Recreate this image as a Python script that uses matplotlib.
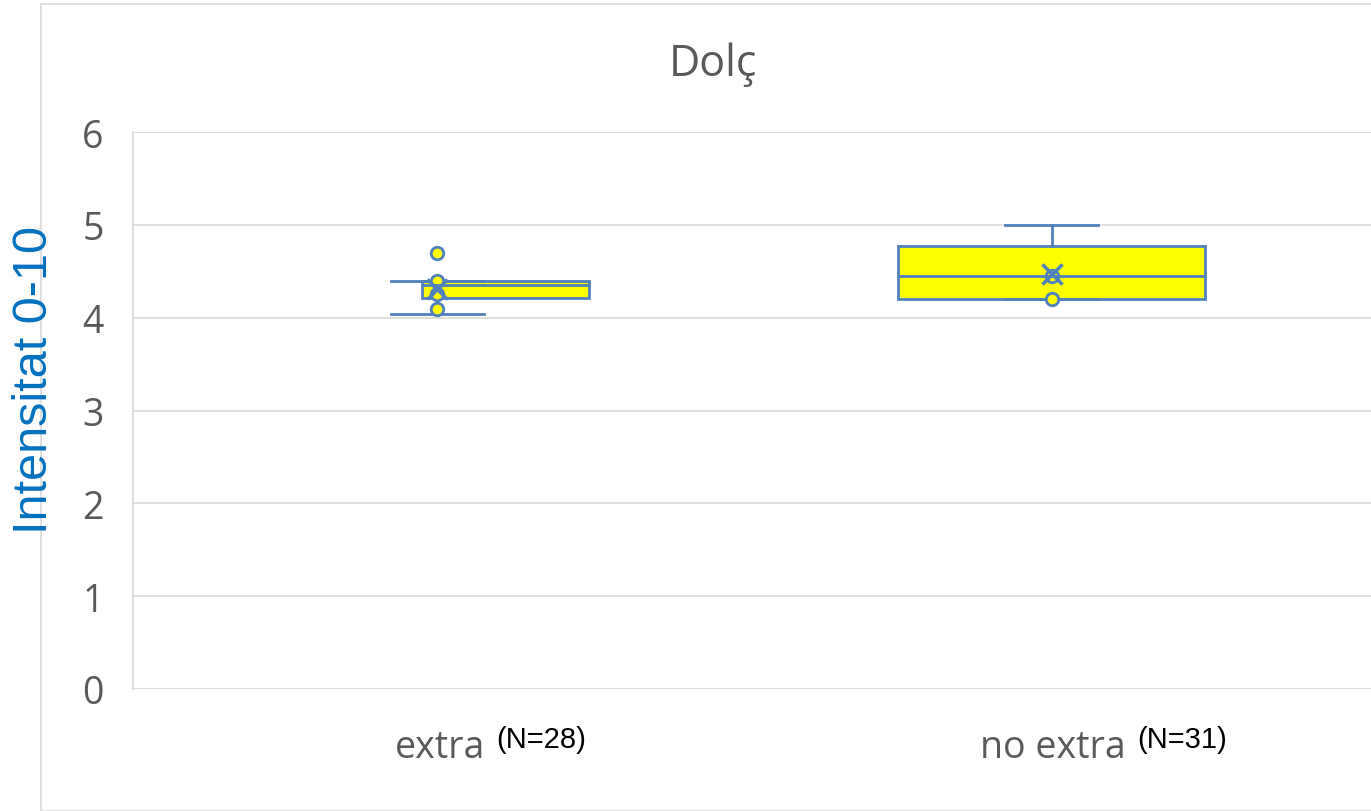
import matplotlib
matplotlib.use("Agg")
import matplotlib.pyplot as plt
from matplotlib.patches import Rectangle
from matplotlib.transforms import blended_transform_factory

# Werte
kategorien = ["extra", "no extra"]
n_labels = ["(N=28)", "(N=31)"]
q1 = [4.21, 4.20]
median = [4.35, 4.45]
q3 = [4.39, 4.77]
whisk_lo = [4.04, 4.20]
whisk_hi = [4.40, 5.00]
mittel = [4.31, 4.47]
punkte = [[4.70, 4.40, 4.25, 4.09], [4.45, 4.20]]

titel = "Dolç"
y_titel = "Intensitat 0-10"
y_ticks = [0, 1, 2, 3, 4, 5, 6]

# Layout
box_pos = [1.0, 2.0]
box_w = [0.306, 0.562]
punkt_pos = [0.875, 2.0]
blau = "#4f81bd"
gelb = "#ffff00"
grau = "#d9d9d9"
text_grau = "#595959"

fig = plt.figure(figsize=(13.71, 8.12), dpi=100)
ax = fig.add_axes([133 / 1371, 1 - 690 / 812, 1 - 133 / 1371, (690 - 133) / 812])

# Rahmen des Diagrammbereichs
fig.patches.append(Rectangle((41 / 1371, 0), 1.2, 1 - 5 / 812, transform=fig.transFigure,
                             fill=False, edgecolor=grau, linewidth=1.2))

stats_box = []
stats_pkt = []
for i in range(len(kategorien)):
    stats_box.append(dict(med=median[i], q1=q1[i], q3=q3[i], whislo=q1[i], whishi=q3[i],
                          fliers=[], mean=mittel[i]))
    stats_pkt.append(dict(med=median[i], q1=q1[i], q3=q3[i], whislo=whisk_lo[i],
                          whishi=whisk_hi[i], fliers=punkte[i], mean=mittel[i]))

ax.bxp(stats_box, positions=box_pos, widths=box_w, patch_artist=True,
       showcaps=False, showfliers=False, showmeans=False,
       boxprops=dict(facecolor=gelb, edgecolor=blau, linewidth=2),
       medianprops=dict(color=blau, linewidth=2),
       whiskerprops=dict(linewidth=0))

ax.bxp(stats_pkt, positions=punkt_pos, widths=0.17, showbox=False,
       showcaps=True, showfliers=True, showmeans=True,
       capwidths=0.17,
       medianprops=dict(linewidth=0),
       whiskerprops=dict(color=blau, linewidth=2),
       capprops=dict(color=blau, linewidth=2),
       flierprops=dict(marker="o", markerfacecolor=gelb, markeredgecolor=blau,
                       markersize=9, markeredgewidth=2),
       meanprops=dict(marker="x", markeredgecolor=blau, markersize=14,
                      markeredgewidth=2.5))

ax.set_xlim(0.318, 2.585)
ax.set_ylim(0, 6)
ax.set_yticks(y_ticks)
ax.set_yticklabels([str(t) for t in y_ticks], fontsize=27, color=text_grau, family="Open Sans")
ax.tick_params(axis="y", length=0, pad=21)
ax.set_xticks([])
ax.grid(axis="y", color=grau, linewidth=1.2)
ax.set_axisbelow(True)
for s in ["top", "right", "bottom"]:
    ax.spines[s].set_visible(False)
ax.spines["left"].set_color(grau)
ax.spines["left"].set_linewidth(1.2)

# Kategorienbeschriftung mit hochgestelltem N
tr = blended_transform_factory(ax.transData, ax.transAxes)
label_rechts = [0.962, 2.135]
for i, k in enumerate(kategorien):
    ax.text(label_rechts[i], -0.104, k, transform=tr, ha="right", va="center",
            fontsize=27, color=text_grau, family="Open Sans")
    ax.text(label_rechts[i] + 0.022, -0.09, n_labels[i], transform=tr, ha="left",
            va="center", fontsize=21, color="black",
            family=["Liberation Sans Narrow", "Liberation Sans"])

fig.text(713 / 1371, 1 - 65 / 812, titel, ha="center", va="center", fontsize=31,
         color=text_grau, family="Open Sans")
fig.text(35 / 1371, 1 - 380 / 812, y_titel, rotation=90, ha="center", va="center",
         fontsize=35, color="#0070c0", family="Liberation Sans")

fig.savefig("out.png", dpi=100)
